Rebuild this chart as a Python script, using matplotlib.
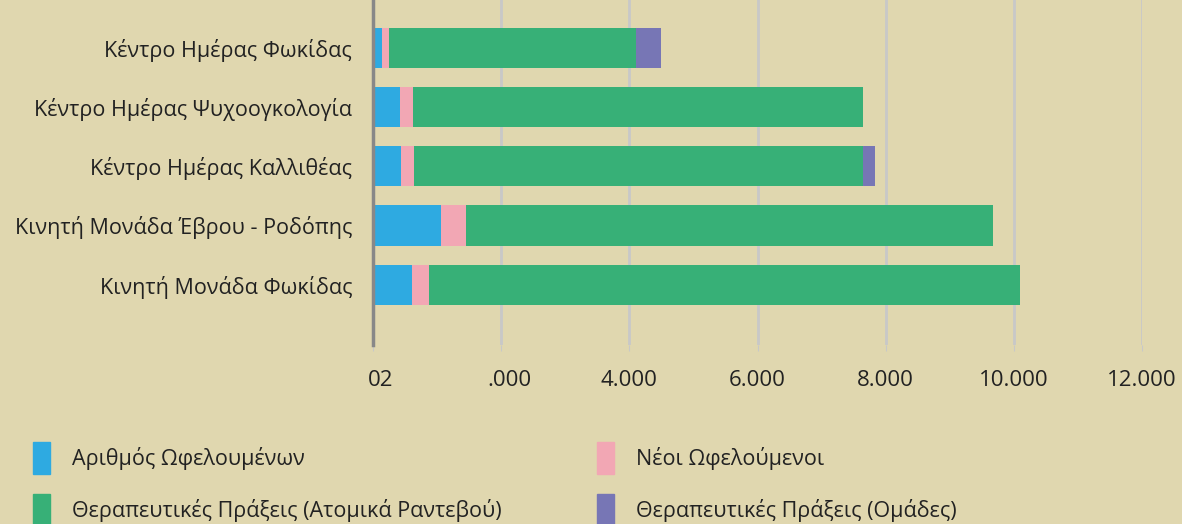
import matplotlib.pyplot as plt
import matplotlib.transforms as mtransforms
from matplotlib.patches import Rectangle

categories = ["Κέντρο Ημέρας Φωκίδας", "Κέντρο Ημέρας Ψυχοογκολογία",
              "Κέντρο Ημέρας Καλλιθέας", "Κινητή Μονάδα Έβρου - Ροδόπης",
              "Κινητή Μονάδα Φωκίδας"]
series_names = ["Αριθμός Ωφελουμένων", "Νέοι Ωφελούμενοι",
                "Θεραπευτικές Πράξεις (Ατομικά Ραντεβού)", "Θεραπευτικές Πράξεις (Ομάδες)"]
beneficiaries = [140, 420, 440, 1060, 610]
new_beneficiaries = [110, 200, 200, 390, 265]
individual_sessions = [3850, 7030, 7000, 8230, 9220]
group_sessions = [400, 0, 200, 0, 0]
colors = ["#2EAAE1", "#F2A7B4", "#37B077", "#7776B5"]
xticks = [0, 2000, 4000, 6000, 8000, 10000, 12000]
xtick_labels = ["02", ".000", "4.000", "6.000", "8.000", "10.000", "12.000"]

bg = "#E0D7AF"
plt.rcParams['font.family'] = ['Open Sans', 'DejaVu Sans']

fig = plt.figure(figsize=(11.82, 5.24), dpi=100, facecolor=bg)
ax = fig.add_axes([373 / 1182, 1 - 345 / 524, (1142 - 373) / 1182, 345 / 524])
ax.set_facecolor(bg)

y = list(range(len(categories)))
left = [0] * len(categories)
for vals, c, name in zip([beneficiaries, new_beneficiaries, individual_sessions, group_sessions],
                         colors, series_names):
    ax.barh(y, vals, left=left, height=0.68, color=c, label=name, zorder=3)
    left = [l + v for l, v in zip(left, vals)]

ax.set_xlim(0, 12000)
ax.set_ylim(4 + 1.02, -0.81)
ax.set_yticks(y)
ax.set_yticklabels(categories, fontsize=15.5, color="#222222")
ax.set_xticks(xticks)
ax.set_xticklabels(xtick_labels, fontsize=16, color="#222222")
ax.tick_params(axis="y", length=0, pad=15)
ax.tick_params(axis="x", length=4, color="#C8C8C8", pad=14)
ax.grid(axis="x", color="#C8C8C8", linewidth=2, zorder=0)
for s in ["top", "right", "bottom"]:
    ax.spines[s].set_visible(False)
ax.spines["left"].set_color("#888888")
ax.spines["left"].set_linewidth(2.5)
ax.spines["left"].set_zorder(4)

# the first two labels sit a little right of their gridlines in the original
shift = mtransforms.ScaledTranslation(8 / 100, 0, fig.dpi_scale_trans)
for lab in ax.get_xticklabels()[:2]:
    lab.set_transform(lab.get_transform() + shift)

# legend drawn manually in figure pixels
legend_pos = [(33, 458), (597, 458), (33, 510), (597, 510)]
for (px, py), c, name in zip(legend_pos, colors, series_names):
    fig.patches.append(Rectangle((px / 1182, 1 - (py + 16) / 524), 17 / 1182, 32 / 524,
                                 transform=fig.transFigure, color=c))
    fig.text((px + 39) / 1182, 1 - py / 524, name, fontsize=15.5, va="center",
             ha="left", color="#222222")

fig.savefig("out.png", dpi=100, facecolor=bg)
